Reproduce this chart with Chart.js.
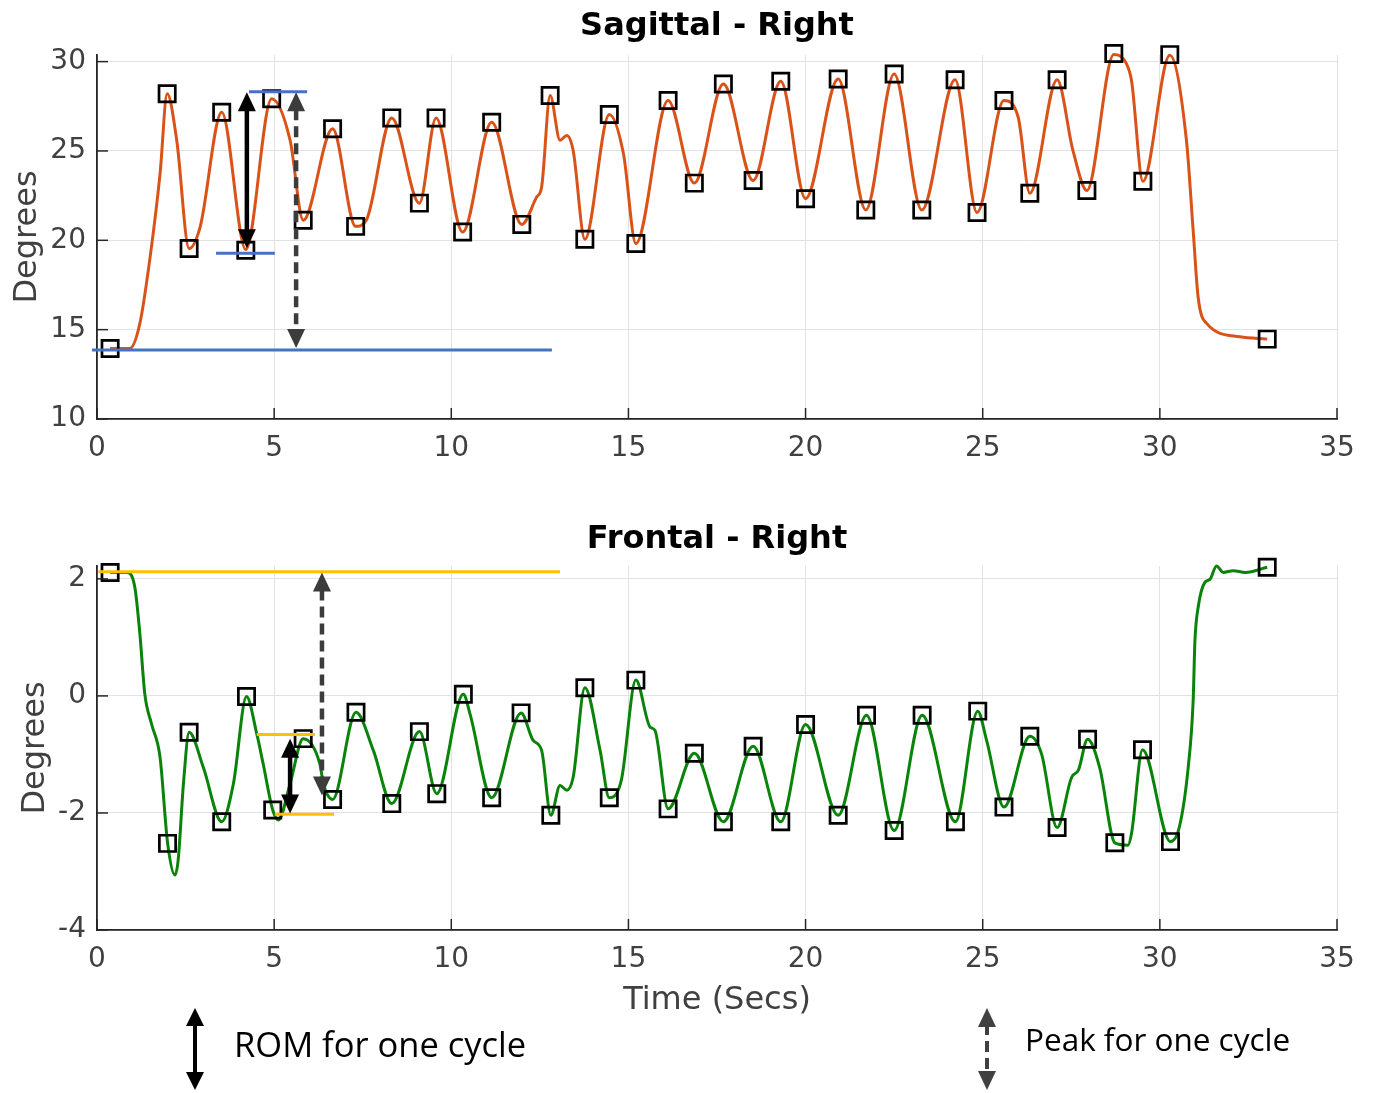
<!DOCTYPE html>
<html>
<head>
<meta charset="utf-8">
<script src="https://cdn.jsdelivr.net/npm/chart.js@4.4.1/dist/chart.umd.min.js"></script>
<style>
html,body{margin:0;padding:0;background:#fff;}
body{width:1373px;height:1093px;position:relative;overflow:hidden;}
#c1{position:absolute;left:0;top:0;}
#c2{position:absolute;left:0;top:480px;}
#leg{position:absolute;left:0;top:990px;}
</style>
</head>
<body>
<canvas id="c1" width="1373" height="470"></canvas>
<canvas id="c2" width="1373" height="540"></canvas>
<svg id="leg" width="1373" height="103" xmlns="http://www.w3.org/2000/svg">
  <line x1="195" y1="24" x2="195" y2="86" stroke="#000" stroke-width="4"/>
  <polygon points="195,18 186,36 204,36" fill="#000"/>
  <polygon points="195,100 186,82 204,82" fill="#000"/>
  <text x="234" y="67" font-family="Open Sans" font-size="34.5" fill="#000">ROM for one cycle</text>
  <line x1="987" y1="34" x2="987" y2="80" stroke="#404040" stroke-width="4" stroke-dasharray="11,6"/>
  <polygon points="987,18 978,37 996,37" fill="#404040"/>
  <polygon points="987,100 978,81 996,81" fill="#404040"/>
  <text x="1025" y="61" font-family="Open Sans" font-size="31.5" fill="#000">Peak for one cycle</text>
</svg>
<script>
// ---------- Sagittal - Right ----------
const sagTimes = [0.37,0.93,1.21,1.5,1.78,1.98,2.25,2.6,2.91,3.52,4.2,4.93,5.45,5.82,6.65,7.3,7.6,8.32,9.1,9.57,10.32,11.14,11.99,12.41,12.55,12.79,13.07,13.26,13.44,13.77,14.46,14.86,15.21,16.12,16.86,17.68,18.52,19.3,20.0,20.92,21.7,22.5,23.28,24.22,24.84,25.6,26.0,26.33,27.1,27.55,27.94,28.7,29.06,29.2,29.52,30.28,30.75,30.94,31.08,31.32,32.26,33.03];
const sagDegrees = [13.95,13.95,15.35,19.07,23.73,28.2,25.6,19.54,20.74,27.17,19.48,27.92,25.6,21.12,26.24,20.78,21.12,26.85,22.08,26.85,20.46,26.61,20.89,22.42,22.98,28.1,25.6,25.87,25.03,20.06,27.04,24.84,19.82,27.82,23.2,28.75,23.35,28.9,22.33,29.03,21.7,29.31,21.7,28.99,21.56,27.82,26.9,22.63,28.99,25.0,22.79,30.4,29.87,28.94,23.3,30.35,25.6,20.56,16.83,15.35,14.6,14.47];
const sagPeakTimes = [0.37,1.98,2.6,3.52,4.2,4.93,5.82,6.65,7.3,8.32,9.1,9.57,10.32,11.14,11.99,12.79,13.77,14.46,15.21,16.12,16.86,17.68,18.52,19.3,20.0,20.92,21.7,22.5,23.28,24.22,24.84,25.6,26.33,27.1,27.94,28.7,29.52,30.28,33.03];
const sagPeakDegrees = [13.95,28.2,19.54,27.17,19.44,27.92,21.12,26.24,20.78,26.85,22.08,26.85,20.46,26.61,20.89,28.1,20.06,27.04,19.82,27.82,23.2,28.75,23.35,28.9,22.33,29.03,21.7,29.31,21.7,28.99,21.56,27.82,22.63,28.99,22.79,30.45,23.3,30.39,14.47];
const sagRefStart = [-0.14,4.29,3.36];
const sagRefEnd = [12.84,5.93,5.02];
const sagRefLevel = [13.86,28.32,19.27];
const sagArrowTime = [4.23,5.62];
const sagArrowHigh = [28.29,28.29];
const sagArrowLow = [19.55,13.97];
const sagArrowDashed = [false,true];

// ---------- Frontal - Right ----------
const froTimes = [0.37,0.84,1.07,1.21,1.35,1.54,1.78,1.99,2.2,2.29,2.44,2.6,3.0,3.52,3.85,4.22,4.51,4.69,4.96,5.12,5.45,5.82,6.29,6.39,6.65,7.31,7.8,8.32,9.1,9.59,10.34,10.53,11.14,11.97,12.31,12.55,12.81,13.07,13.26,13.44,13.77,14.2,14.46,14.8,15.21,15.61,15.75,16.12,16.86,17.68,18.52,19.3,20.0,20.92,21.72,22.5,23.29,24.23,24.86,25.11,25.6,26.33,26.66,27.1,27.51,27.7,27.96,28.3,28.73,29.1,29.2,29.51,30.3,30.55,30.8,30.94,30.99,31.08,31.27,31.41,31.6,31.79,32.07,32.41,33.03];
const froDegrees = [2.11,2.11,1.85,1.06,0.03,-0.48,-1.05,-2.5,-3.06,-2.81,-1.5,-0.62,-1.22,-2.15,-1.5,-0.01,-0.65,-1.16,-1.95,-2.12,-1.5,-0.73,-1.16,-1.5,-1.77,-0.28,-0.93,-1.84,-0.61,-1.67,0.03,-0.31,-1.74,-0.29,-0.76,-0.93,-2.04,-1.53,-1.61,-1.39,0.14,-0.93,-1.74,-1.44,0.27,-0.53,-0.59,-1.93,-0.98,-2.15,-0.86,-2.15,-0.49,-2.04,-0.33,-2.3,-0.33,-2.15,-0.26,-0.76,-1.9,-0.69,-0.99,-2.25,-1.39,-1.27,-0.74,-1.22,-2.51,-2.55,-2.35,-0.92,-2.49,-2.24,-1.22,-0.08,0.94,1.51,1.94,1.99,2.22,2.11,2.14,2.11,2.2];
const froPeakTimes = [0.37,1.99,2.6,3.52,4.22,4.96,5.82,6.65,7.31,8.32,9.1,9.59,10.34,11.14,11.97,12.81,13.77,14.46,15.21,16.12,16.86,17.68,18.52,19.3,20.0,20.92,21.72,22.5,23.29,24.23,24.86,25.6,26.33,27.1,27.96,28.73,29.51,30.3,33.03];
const froPeakDegrees = [2.11,-2.52,-0.62,-2.15,-0.01,-1.95,-0.73,-1.77,-0.28,-1.84,-0.61,-1.67,0.03,-1.74,-0.29,-2.04,0.14,-1.74,0.27,-1.93,-0.98,-2.15,-0.86,-2.15,-0.49,-2.04,-0.33,-2.3,-0.33,-2.15,-0.26,-1.9,-0.69,-2.25,-0.74,-2.51,-0.92,-2.49,2.2];
const froRefStart = [0.04,4.51,5.02];
const froRefEnd = [13.07,6.15,6.69];
const froRefLevel = [2.12,-0.66,-2.02];
const froArrowTime = [5.45,6.35];
const froArrowHigh = [-0.73,2.11];
const froArrowLow = [-2.01,-1.7];
const froArrowDashed = [false,true];

const xTicksMin = 0, xTicksMax = 35, xStep = 5;

const TICK_FONT = {family:'DejaVu Sans', size:28};
const LABEL_FONT = {family:'DejaVu Sans', size:32, lineHeight:1.2};
const TEXT_GRAY = '#404040';
const GRID = '#e2e2e2';
const AXIS = '#262626';

function pts(xs, ys){ return xs.map((x,i)=>({x:x, y:ys[i]})); }

// inward tick marks + annotation arrows
const decorPlugin = {
  id:'decor',
  afterDatasetsDraw(chart, args, opts){
    const ctx = chart.ctx, xs = chart.scales.x, ys = chart.scales.y, a = chart.chartArea;
    ctx.save();
    ctx.strokeStyle = AXIS; ctx.lineWidth = 1.5;
    xs.ticks.forEach(t=>{ const px = xs.getPixelForValue(t.value);
      ctx.beginPath(); ctx.moveTo(px, a.bottom); ctx.lineTo(px, a.bottom-11); ctx.stroke(); });
    ys.ticks.forEach(t=>{ const py = ys.getPixelForValue(t.value);
      ctx.beginPath(); ctx.moveTo(a.left, py); ctx.lineTo(a.left+11, py); ctx.stroke(); });
    // arrows
    const hw = 9, hl = 19;
    opts.times.forEach((t,i)=>{
      const px = xs.getPixelForValue(t);
      const yTop = ys.getPixelForValue(opts.high[i]);
      const yBot = ys.getPixelForValue(opts.low[i]);
      const dashed = opts.dashed[i];
      const col = dashed ? '#3c3c3c' : '#000';
      ctx.strokeStyle = col; ctx.fillStyle = col; ctx.lineWidth = 4.5;
      ctx.setLineDash(dashed ? [11,6] : []);
      ctx.beginPath(); ctx.moveTo(px, yTop+hl-2); ctx.lineTo(px, yBot-hl+2); ctx.stroke();
      ctx.setLineDash([]);
      ctx.beginPath(); ctx.moveTo(px, yTop); ctx.lineTo(px-hw, yTop+hl); ctx.lineTo(px+hw, yTop+hl); ctx.closePath(); ctx.fill();
      ctx.beginPath(); ctx.moveTo(px, yBot); ctx.lineTo(px-hw, yBot-hl); ctx.lineTo(px+hw, yBot-hl); ctx.closePath(); ctx.fill();
    });
    ctx.restore();
  }
};

function makeChart(id, cfg){
  const refSets = cfg.refStart.map((s,i)=>({
    data: pts([s, cfg.refEnd[i]], [cfg.refLevel[i], cfg.refLevel[i]]),
    showLine:true, borderColor: cfg.refColor, borderWidth:3, pointRadius:0, clip:false, order:0
  }));
  return new Chart(document.getElementById(id), {
    type:'scatter',
    data:{ datasets:[
      ...refSets,
      { data: pts(cfg.peakX, cfg.peakY), showLine:false, pointStyle:'rect', pointRadius:11.5,
        pointBorderColor:'#000', pointBackgroundColor:'rgba(0,0,0,0)', pointBorderWidth:2.7, clip:false, order:1 },
      { data: pts(cfg.lineX, cfg.lineY), showLine:true, borderColor: cfg.lineColor, borderWidth:3,
        pointRadius:0, cubicInterpolationMode:'monotone', clip:false, order:2 }
    ]},
    options:{
      responsive:false, animation:false, devicePixelRatio:1,
      layout:{ padding:{left:0, right:36, top:0, bottom:0} },
      plugins:{
        legend:{display:false}, tooltip:{enabled:false},
        title:{ display:true, fullSize:false, text: cfg.title, color:'#000',
          font:{family:'DejaVu Sans', size:32, weight:'bold', lineHeight:1.2},
          padding:{top: cfg.titleTop, bottom: cfg.titleBottom} },
        decor:{ times: cfg.arrowX, high: cfg.arrowHigh, low: cfg.arrowLow, dashed: cfg.arrowDashed }
      },
      scales:{
        x:{ type:'linear', min:xTicksMin, max:xTicksMax,
          ticks:{stepSize:xStep, font:TICK_FONT, color:TEXT_GRAY, padding:13, includeBounds:false, maxRotation:0},
          grid:{color:GRID, lineWidth:1, drawTicks:false},
          border:{display:true, color:AXIS, width:1.8},
          title:{display: !!cfg.xTitle, text: cfg.xTitle || '', font:LABEL_FONT, color:TEXT_GRAY, padding:{top:0,bottom:0}},
          afterFit:(s)=>{ s.height = cfg.xHeight; } },
        y:{ type:'linear', min:cfg.yMin, max:cfg.yMax,
          ticks:{stepSize:cfg.yStep, font:TICK_FONT, color:TEXT_GRAY, padding:11, includeBounds:false},
          grid:{color:GRID, lineWidth:1, drawTicks:false},
          border:{display:true, color:AXIS, width:1.8},
          title:{display:true, text:'Degrees', font:LABEL_FONT, color:TEXT_GRAY, padding:{top:cfg.yTitlePad, bottom:0}},
          afterFit:(s)=>{ s.width = 97; } }
      }
    },
    plugins:[decorPlugin]
  });
}

makeChart('c1', {
  title:'Sagittal - Right', titleTop:7.8, titleBottom:8.8,
  lineX:sagTimes, lineY:sagDegrees, peakX:sagPeakTimes, peakY:sagPeakDegrees, lineColor:'#D95319',
  refStart:sagRefStart, refEnd:sagRefEnd, refLevel:sagRefLevel, refColor:'#4472C4',
  arrowX:sagArrowTime, arrowHigh:sagArrowHigh, arrowLow:sagArrowLow, arrowDashed:sagArrowDashed,
  yMin:10, yMax:30.37, yStep:5, yTitlePad:8, xHeight:51
});
makeChart('c2', {
  title:'Frontal - Right', titleTop:40, titleBottom:7.6,
  lineX:froTimes, lineY:froDegrees, peakX:froPeakTimes, peakY:froPeakDegrees, lineColor:'#0a830a',
  refStart:froRefStart, refEnd:froRefEnd, refLevel:froRefLevel, refColor:'#FFC000',
  arrowX:froArrowTime, arrowHigh:froArrowHigh, arrowLow:froArrowLow, arrowDashed:froArrowDashed,
  yMin:-4, yMax:2.22, yStep:2, yTitlePad:16, xHeight:90, xTitle:'Time (Secs)'
});
</script>
</body>
</html>
